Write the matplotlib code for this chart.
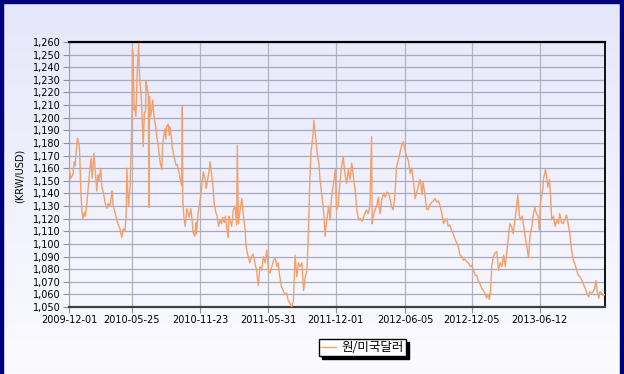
import numpy as np
import matplotlib
matplotlib.use("Agg")
import matplotlib.pyplot as plt
from matplotlib.patches import Rectangle

# ---------------- data ----------------
tick_labels = ["2009-12-01", "2010-05-25", "2010-11-23", "2011-05-31",
               "2011-12-01", "2012-06-05", "2012-12-05", "2013-06-12"]
tick_days = [0, 111, 231, 351, 471, 593, 711, 831]   # trading-day index of each tick
last_day = 946

trade_day = [
    0, 3, 7, 9, 11, 12, 15, 18, 19, 21, 23, 25, 27, 29, 31, 33, 35, 37, 39, 41,
    44, 46, 49, 51, 53, 56, 58, 61, 64, 67, 69, 72, 75, 76, 78, 81, 84, 87, 90, 93,
    96, 99, 101, 102, 105, 108, 111,
    112, 113, 115, 116, 118, 119, 121, 123, 124, 126, 128, 129, 131, 133, 135, 136,
    138, 140, 141, 142, 144, 146, 148, 149, 151, 153, 155, 157, 159, 161, 164, 165,
    167, 169, 171, 172, 175, 177, 178, 181, 182, 184, 187, 189, 191, 193, 195, 197,
    199, 200, 201, 203, 205, 208, 210, 212, 215, 217, 219, 222, 224, 225, 228, 231,
    234, 237, 240, 242, 245, 247, 249, 252, 254, 256, 259, 261, 264, 267, 269, 271,
    274, 276, 278, 281, 282,
    284, 287, 290, 293, 296, 297, 299, 302, 305, 308, 311, 312, 315, 317, 319, 322,
    325, 328, 331, 334, 337, 340, 343, 346, 349, 352, 355, 358, 361, 364, 367, 369,
    372, 375, 378, 381, 384, 387, 390, 393, 396, 399, 402, 405, 408, 411, 414, 417,
    420, 422, 424, 425, 427, 429, 431, 432, 434, 436, 438, 441, 443, 445, 448, 450,
    452, 454, 456, 458, 461, 463, 465, 468, 470, 472, 475, 478, 481, 484, 487, 490,
    493, 496, 499, 502, 505, 508, 511, 514, 517, 519, 522, 525, 528, 531, 534, 535,
    537, 540, 543, 546, 549, 552, 555, 558, 561, 564, 566, 569, 572, 575, 578, 581,
    584, 587, 590, 593, 596, 599, 602, 605, 608, 611, 614, 617, 620, 623, 625, 628,
    631, 634, 637, 640, 643, 646, 649, 652, 655, 658, 661, 664, 667, 669, 672, 675,
    678, 681, 684, 687, 690, 693, 696, 699, 702, 705, 708, 711, 714, 717, 720, 722,
    725, 728, 731, 734, 737, 740, 742, 744, 746, 749, 752, 755, 758, 761, 764, 767,
    770, 773, 775, 778, 781, 784, 787, 790, 792, 795, 797, 800, 802, 805, 808, 811,
    814, 817, 819, 822, 825, 828, 830, 832, 836, 838, 841, 843, 845, 848, 850, 852,
    855, 858, 861, 864, 866, 869, 872, 875, 878, 881, 884, 887, 890, 893, 896, 899,
    902, 905, 908, 911, 914, 917, 919, 922, 925, 928, 930, 932, 935, 937, 940, 943,
    946,
]

krw_usd = [
    1160, 1152, 1155, 1165, 1162, 1170, 1184, 1178, 1170, 1140, 1125, 1120, 1125, 1122, 1130, 1140, 1150, 1160, 1168, 1152,
    1172, 1160, 1142, 1155, 1150, 1160, 1145, 1140, 1132, 1128, 1132, 1130, 1138, 1142, 1130, 1125, 1120, 1115, 1112, 1105,
    1112, 1110, 1125, 1160, 1130, 1146, 1200,
    1254, 1251, 1206, 1209, 1201, 1215, 1243, 1259, 1238, 1224, 1213, 1201, 1177, 1204, 1205, 1229,
    1224, 1218, 1129, 1217, 1201, 1206, 1214, 1206, 1198, 1193, 1185, 1179, 1172, 1164, 1159, 1177,
    1185, 1191, 1183, 1193, 1195, 1186, 1193, 1183, 1177, 1172, 1166, 1162, 1163, 1159, 1155, 1150,
    1146, 1209, 1133, 1120, 1114, 1128, 1125, 1121, 1128, 1120, 1109, 1106, 1117, 1108, 1125, 1133,
    1144, 1157, 1152, 1144, 1152, 1157, 1165, 1154, 1146, 1133, 1125, 1123, 1114, 1119, 1116, 1121,
    1117, 1122, 1114, 1105, 1122,
    1119, 1114, 1127, 1130, 1115, 1178, 1116, 1127, 1136, 1122, 1111, 1100, 1092, 1089, 1085, 1090,
    1092, 1085, 1079, 1067, 1082, 1079, 1090, 1085, 1095, 1079, 1077, 1082, 1087, 1089, 1082, 1085,
    1074, 1066, 1063, 1060, 1061, 1055, 1053, 1050, 1055, 1091, 1074, 1085, 1082, 1085, 1063, 1074,
    1079, 1103, 1132, 1151, 1172, 1180, 1188, 1198, 1190, 1182, 1172, 1164, 1151, 1143, 1132, 1122,
    1106, 1116, 1122, 1130, 1119, 1135, 1143, 1151, 1159, 1127, 1130, 1148, 1161, 1169, 1156, 1148,
    1159, 1151, 1164, 1153, 1143, 1127, 1119, 1120, 1118, 1120, 1124, 1127, 1124, 1130, 1185, 1116,
    1122, 1127, 1130, 1137, 1124, 1135, 1140, 1137, 1141, 1140, 1137, 1130, 1127, 1137, 1161, 1166,
    1172, 1178, 1181, 1174, 1169, 1166, 1156, 1160, 1149, 1136, 1141, 1147, 1151, 1139, 1149, 1140,
    1128, 1127, 1131, 1133, 1134, 1136, 1133, 1134, 1130, 1124, 1116, 1119, 1120, 1114, 1115, 1111,
    1108, 1104, 1101, 1098, 1091, 1090, 1087, 1088, 1086, 1085, 1082, 1083, 1079, 1075, 1075, 1071,
    1069, 1065, 1063, 1061, 1057, 1060, 1056, 1063, 1082, 1090, 1093, 1094, 1079, 1085, 1082, 1091,
    1082, 1095, 1103, 1116, 1114, 1108, 1119, 1129, 1139, 1122, 1119, 1122, 1116, 1106, 1098, 1089,
    1108, 1114, 1122, 1129, 1124, 1122, 1111, 1132, 1143, 1153, 1159, 1153, 1145, 1151, 1137, 1119,
    1122, 1114, 1119, 1116, 1124, 1117, 1116, 1119, 1123, 1116, 1108, 1095, 1087, 1084, 1079, 1075,
    1074, 1071, 1068, 1065, 1061, 1058, 1062, 1061, 1062, 1065, 1071, 1063, 1057, 1062, 1061, 1059,
    1060,
]

y_min, y_max, y_step = 1050, 1260, 10
series_name = "원/미국달러"
y_label = "(KRW/USD)"

# ---------------- figure ----------------
W, H = 624, 374
fig = plt.figure(figsize=(W / 100, H / 100), dpi=100)

# background gradient
bg = fig.add_axes([0, 0, 1, 1], zorder=-10)
top_c = np.array([229, 231, 250]) / 255
bot_c = np.array([251, 251, 255]) / 255
t = np.linspace(0, 1, 256)[:, None]
grad = top_c[None, None, :] * (1 - t[:, :, None]) + bot_c[None, None, :] * t[:, :, None]
bg.imshow(np.repeat(grad, 2, axis=1), aspect="auto", extent=[0, 1, 0, 1])
bg.set_axis_off()

# navy frame (left, top, right)
navy = "#00007A"
for (x0, y0, w, h) in [(0, 0, 3, H), (0, H - 3, W, 3), (W - 4, 0, 4, H)]:
    fig.patches.append(Rectangle((x0 / W, y0 / H), w / W, h / H,
                                 transform=fig.transFigure, color=navy, zorder=5))

ax_l, ax_r, ax_t, ax_b = 69, 605, 42, 307
ax = fig.add_axes([ax_l / W, (H - ax_b) / H, (ax_r - ax_l) / W, (ax_b - ax_t) / H])
ax.patch.set_alpha(0)

ax.plot(trade_day, krw_usd, color="#F4A06A", lw=1.0, zorder=3, label=series_name)

ax.set_xlim(0, last_day)
ax.set_ylim(y_min, y_max)
yt = np.arange(y_min, y_max + 1, y_step)
ax.set_yticks(yt)
ax.set_yticklabels([f"{v:,}" for v in yt], fontsize=7)
ax.set_xticks(tick_days)
ax.set_xticklabels(tick_labels, fontsize=7)

ax.grid(axis="y", color="#A8A8BE", lw=0.9)
ax.grid(axis="x", color="#B4B4BE", lw=0.9)
ax.tick_params(axis="both", length=4, width=0.8, color="#909090", pad=2)

for side, c, w in [("top", "black", 1.6), ("right", "black", 1.3),
                   ("bottom", "#404040", 1.6), ("left", "#A0A0A0", 0.8)]:
    ax.spines[side].set_color(c)
    ax.spines[side].set_linewidth(w)

fig.text(20 / W, (H - 176) / H, y_label, rotation=90, fontsize=7,
         ha="center", va="center")

leg = fig.legend(loc="center", bbox_to_anchor=(362.5 / W, (H - 347.5) / H),
                 prop={"family": ["Noto Sans CJK KR", "DejaVu Sans"], "size": 9},
                 frameon=True, fancybox=False, shadow={"color": "black", "alpha": 1},
                 borderpad=0.15, handlelength=1.2, handletextpad=0.45,
                 borderaxespad=0)
leg.get_frame().set_edgecolor("black")
leg.get_frame().set_linewidth(1.0)
leg.get_frame().set_facecolor("white")

fig.savefig("out.png", dpi=100)
